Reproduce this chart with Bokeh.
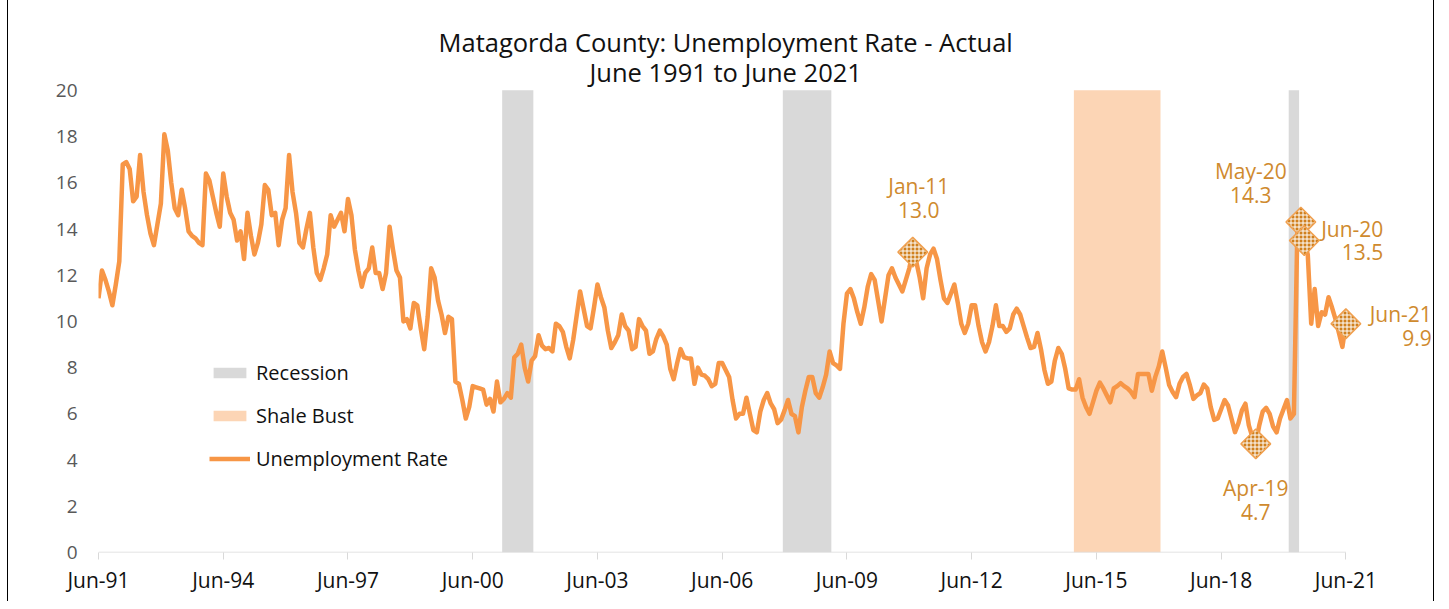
from math import pi
from bokeh.plotting import figure
from bokeh.models import (ColumnDataSource, Range1d, FixedTicker, Legend, LegendItem, Label)
from bokeh.core.properties import value
from bokeh.embed import file_html
from bokeh.resources import INLINE

# ---------------- data ----------------
start_month = "1991-06"
unemployment = [
    11.0, 12.2, 11.8, 11.3, 10.7, 11.6, 12.6, 16.8, 16.9, 16.6, 15.2, 15.4,
    17.2, 15.6, 14.6, 13.8, 13.3, 14.2, 15.1, 18.1, 17.4, 16.0, 14.9, 14.6,
    15.7, 14.9, 13.9, 13.7, 13.6, 13.4, 13.3, 16.4, 16.1, 15.4, 14.7, 14.1,
    16.4, 15.4, 14.7, 14.4, 13.5, 13.9, 12.7, 14.7, 13.7, 12.9, 13.4, 14.2,
    15.9, 15.7, 14.6, 14.7, 13.3, 14.4, 14.9, 17.2, 15.6, 14.7, 13.4, 13.2,
    14.0, 14.7, 13.2, 12.1, 11.8, 12.3, 12.9, 14.6, 14.1, 14.4, 14.7, 13.9,
    15.3, 14.6, 13.1, 12.2, 11.5, 12.1, 12.3, 13.2, 12.1, 12.1, 11.4, 12.1,
    14.1, 13.1, 12.2, 11.9, 10.0, 10.1, 9.7, 10.8, 10.7, 9.7, 8.8, 10.2,
    12.3, 11.9, 10.9, 10.3, 9.5, 10.2, 10.1, 7.4, 7.3, 6.6, 5.8, 6.3,
    7.2, 7.15, 7.1, 7.05, 6.4, 6.65, 6.1, 7.4, 6.5, 6.65, 6.9, 6.7,
    8.45, 8.6, 9.0, 8.0, 7.4, 8.3, 8.5, 9.4, 8.95, 8.8, 8.85, 8.7,
    9.9, 9.8, 9.55, 8.9, 8.4, 9.2, 10.25, 11.3, 10.55, 9.8, 9.7, 10.6,
    11.6, 11.05, 10.6, 9.6, 8.85, 9.1, 9.4, 10.3, 9.8, 9.6, 8.8, 8.9,
    10.1, 9.8, 9.6, 8.6, 8.7, 9.25, 9.6, 9.35, 9.0, 7.95, 7.5, 8.2,
    8.8, 8.45, 8.4, 8.4, 7.3, 8.0, 7.7, 7.65, 7.5, 7.2, 7.3, 8.2,
    8.2, 7.9, 7.6, 6.6, 5.8, 6.0, 6.0, 6.7, 6.0, 5.3, 5.2, 6.1,
    6.6, 6.9, 6.45, 6.2, 5.6, 5.75, 6.15, 6.6, 6.0, 5.9, 5.2, 6.3,
    7.0, 7.6, 7.6, 6.9, 6.7, 7.15, 7.7, 8.7, 8.2, 8.1, 7.95, 9.9,
    11.2, 11.4, 11.0, 10.4, 9.9, 10.6, 11.5, 12.05, 11.8, 10.9, 10.0, 11.0,
    12.0, 12.3, 11.9, 11.6, 11.3, 11.8, 12.3, 13.0, 12.6, 11.9, 11.0, 12.3,
    12.9, 13.15, 12.7, 11.8, 11.0, 10.8, 11.2, 11.6, 10.8, 9.9, 9.5, 9.9,
    10.7, 10.7, 9.8, 9.1, 8.7, 9.1, 9.8, 10.7, 9.8, 9.8, 9.55, 9.7,
    10.3, 10.55, 10.3, 9.8, 9.3, 8.85, 8.9, 9.5, 8.8, 7.9, 7.3, 7.4,
    8.3, 8.85, 8.6, 7.95, 7.1, 7.05, 7.05, 7.5, 6.7, 6.3, 6.0, 6.5,
    7.0, 7.35, 7.1, 6.8, 6.5, 7.1, 7.2, 7.33, 7.2, 7.1, 6.95, 6.72,
    7.73, 7.73, 7.73, 7.73, 7.0, 7.6, 8.05, 8.7, 8.0, 7.25, 6.95, 6.72,
    7.3, 7.6, 7.73, 7.23, 6.65, 6.8, 6.9, 7.27, 7.1, 6.29, 5.74, 5.8,
    6.2, 6.6, 6.36, 5.79, 5.21, 5.6, 6.15, 6.44, 5.5, 5.0, 4.7, 5.5,
    6.1, 6.26, 6.0, 5.45, 5.2, 5.8, 6.2, 6.6, 5.8, 6.0, 14.0, 14.3,
    13.5, 12.9, 9.9, 11.4, 9.8, 10.4, 10.3, 11.05, 10.6, 10.1, 9.5, 8.9,
    9.9,
]

tick_labels = ["Jun-91", "Jun-94", "Jun-97", "Jun-00", "Jun-03", "Jun-06",
               "Jun-09", "Jun-12", "Jun-15", "Jun-18", "Jun-21"]
y_ticks = [0, 2, 4, 6, 8, 10, 12, 14, 16, 18, 20]

recession_start = ["2001-03", "2007-12", "2020-02"]
recession_end = ["2001-11", "2009-01", "2020-04"]
shale_start = ["2014-12"]
shale_end = ["2016-12"]

highlight_months = ["2011-01", "2019-04", "2020-05", "2020-06", "2021-06"]
highlight_names = ["Jan-11", "Apr-19", "May-20", "Jun-20", "Jun-21"]

title_line1 = "Matagorda County: Unemployment Rate - Actual"
title_line2 = "June 1991 to June 2021"

# ---------------- styles ----------------
FONT = "Open Sans"
LINE_COLOR = "#f79646"
GRAY = "#d9d9d9"
SHALE = "#fcd5b5"
LABEL_COLOR = "#cf8a2e"
MARKER_FILL = "#d0801e"
label_dx = [6, 0, -50, 79, 86]
label_dy = [-54, 56, -39, 0, 2]
label_align = ["center", "center", "center", "right", "right"]
Y_TOP = 23.5


def month_index(s):
    y0, m0 = map(int, start_month.split("-"))
    y, m = map(int, s.split("-"))
    return (y - y0) * 12 + (m - m0)


months = list(range(len(unemployment)))

p = figure(width=1434, height=601, output_backend="svg", toolbar_location=None,
           x_range=Range1d(0, 385), y_range=Range1d(0, Y_TOP),
           min_border_left=98, min_border_right=2, min_border_top=9, min_border_bottom=49)
p.background_fill_color = None
p.border_fill_color = None
p.outline_line_color = None
p.grid.visible = False
p.styles = {"box-shadow": "inset 7px 0 0 #ffffff, inset 8px 0 0 #000000, inset -1px 0 0 #000000"}

# bands
rec_src = ColumnDataSource(dict(
    left=[month_index(s) - 0.5 for s in recession_start],
    right=[month_index(e) + 0.5 for e in recession_end],
))
rec = p.quad(left="left", right="right", bottom=0, top=y_ticks[-1], source=rec_src,
             fill_color=GRAY, line_color=None)
sh_src = ColumnDataSource(dict(
    left=[month_index(s) - 0.5 for s in shale_start],
    right=[month_index(e) + 0.5 for e in shale_end],
))
sh = p.quad(left="left", right="right", bottom=0, top=y_ticks[-1], source=sh_src,
            fill_color=SHALE, line_color=None)

# baseline of the category axis
p.segment(x0=months[0], y0=0, x1=months[-1], y1=0, line_color=GRAY, line_width=1.5)

# line
ln = p.line(months, unemployment, line_color=LINE_COLOR, line_width=4.5, line_join="round")

# highlighted points
hi_x = [month_index(m) for m in highlight_months]
hi_y = [unemployment[i] for i in hi_x]
hi_text = [f"{n}\n{v:.1f}" for n, v in zip(highlight_names, hi_y)]
hi_src = ColumnDataSource(dict(x=hi_x, y=hi_y, text=hi_text, dx=label_dx, dy=label_dy,
                               align=label_align))
p.scatter("x", "y", source=hi_src, marker="square", angle=pi / 4, size=21,
          fill_color=MARKER_FILL, line_color="#f0a050", line_width=1.5,
          hatch_pattern="cross", hatch_color="white", hatch_scale=4, hatch_weight=1)
p.text("x", "y", text="text", source=hi_src, x_offset="dx", y_offset="dy",
       text_align="align", text_baseline="middle", text_font=value(FONT),
       text_font_size="21px", text_color=LABEL_COLOR, text_line_height=0.84)

# axes
xa = p.xaxis[0]
xa.ticker = FixedTicker(ticks=[i * 36 for i in range(len(tick_labels))])
xa.major_label_overrides = {i * 36: lab for i, lab in enumerate(tick_labels)}
xa.axis_line_color = None
xa.major_tick_out = 7
xa.major_tick_in = 0
xa.major_tick_line_color = GRAY
xa.major_tick_line_width = 1
xa.minor_tick_line_color = None
xa.major_label_text_font = FONT
xa.major_label_text_font_size = "21px"
xa.major_label_text_color = "#111111"
xa.major_label_standoff = 6

ya = p.yaxis[0]
ya.ticker = FixedTicker(ticks=y_ticks)
ya.axis_line_color = None
ya.major_tick_out = 0
ya.major_tick_in = 0
ya.major_tick_line_color = None
ya.minor_tick_line_color = None
ya.major_label_text_font = FONT
ya.major_label_text_font_size = "19px"
ya.major_label_text_color = "#595959"
ya.major_label_standoff = 21

# title (inside the frame area above the 20 line)
for txt, yy in [(title_line1, 22.1), (title_line2, 20.8)]:
    p.add_layout(Label(x=181, y=yy, text=txt, text_align="center", text_baseline="middle",
                       text_font=FONT, text_font_size="25.5px", text_color="#111111"))

# legend
legend = Legend(items=[LegendItem(label="Recession", renderers=[rec]),
                       LegendItem(label="Shale Bust", renderers=[sh]),
                       LegendItem(label="Unemployment Rate", renderers=[ln])],
                location=(111, 80), orientation="vertical",
                glyph_width=41, glyph_height=13, label_standoff=6,
                label_text_font=FONT, label_text_font_size="20px", label_text_color="#111111",
                spacing=16, padding=0, margin=0,
                border_line_color=None, background_fill_alpha=0)
p.add_layout(legend, "center")

open("out.html", "w").write(file_html(p, INLINE))
